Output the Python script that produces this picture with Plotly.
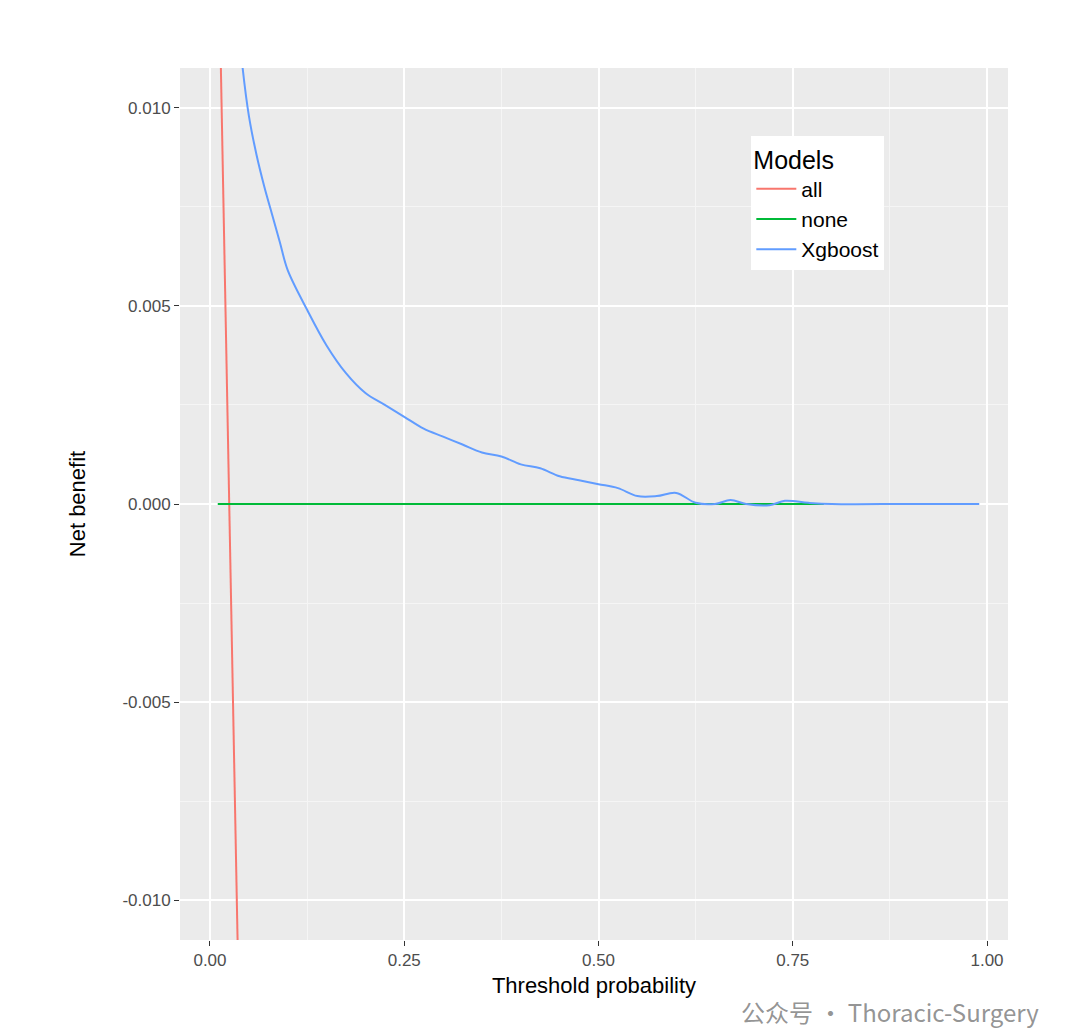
import plotly.graph_objects as go

all_x = [0.01, 0.02, 0.03, 0.04]
all_y = [0.0151, 0.0051, -0.0051, -0.0156]
none_x = [0.01, 0.79]
none_y = [0.0, 0.0]
xg_x = [0.035, 0.042, 0.05, 0.06, 0.07, 0.08, 0.09, 0.1, 0.125, 0.15, 0.175, 0.2, 0.225, 0.25, 0.275, 0.3,
        0.325, 0.35, 0.375, 0.4, 0.425, 0.45, 0.475, 0.5, 0.525, 0.55, 0.575, 0.6, 0.625, 0.65, 0.67,
        0.69, 0.72, 0.74, 0.77, 0.8, 0.9, 0.99]
xg_y = [0.0125, 0.011, 0.0098, 0.0088, 0.0080, 0.0073, 0.0066, 0.0059, 0.0049, 0.0040, 0.0033, 0.0028,
        0.0025, 0.0022, 0.0019, 0.0017, 0.0015, 0.0013, 0.0012, 0.0010, 0.0009, 0.0007, 0.0006, 0.0005,
        0.0004, 0.0002, 0.0002, 0.00028, 0.00003, 0.0, 0.0001, 0.0, -0.00003, 0.00008, 0.00003, 0.0, 0.0, 0.0]

fig = go.Figure()
fig.add_trace(go.Scatter(x=all_x, y=all_y, mode="lines", name="all", line=dict(color="#F8766D", width=2)))
fig.add_trace(go.Scatter(x=none_x, y=none_y, mode="lines", name="none", line=dict(color="#00BA38", width=2)))
fig.add_trace(go.Scatter(x=xg_x, y=xg_y, mode="lines", name="Xgboost", line=dict(color="#619CFF", width=2, shape="spline")))

ax = dict(showline=False, zeroline=False, gridcolor="white", gridwidth=1.5, ticks="outside",
          ticklen=5, tickcolor="#333333", tickfont=dict(size=17, color="#4D4D4D"),
          title_font=dict(size=22, color="black"), automargin=False)
fig.update_layout(
    width=1070, height=1034, paper_bgcolor="white", plot_bgcolor="#EBEBEB",
    margin=dict(l=172, r=70, t=60, b=102),
    font=dict(family="Liberation Sans, Arial"),
    xaxis=dict(ax, range=[-0.0386, 1.027], tickvals=[0, 0.25, 0.5, 0.75, 1.0],
               ticktext=["0.00", "0.25", "0.50", "0.75", "1.00"], title_text="Threshold probability",
               title_standoff=8, minor=dict(tickvals=[0.125, 0.375, 0.625, 0.875], gridcolor="#F5F5F5", gridwidth=0.8, ticks="")),
    yaxis=dict(ax, range=[-0.011, 0.011], tickvals=[-0.01, -0.005, 0, 0.005, 0.01],
               ticktext=["-0.010", "-0.005", "0.000", "0.005", "0.010"], title_text="Net benefit",
               title_standoff=30,
               minor=dict(tickvals=[-0.0075, -0.0025, 0.0025, 0.0075], gridcolor="#F5F5F5", gridwidth=0.8, ticks="")),
    legend=dict(x=0.69, y=0.922, xanchor="left", yanchor="top", bgcolor="white",
                title=dict(text="Models  ", font=dict(size=25, color="black")),
                font=dict(size=21, color="black"), borderwidth=0,
                itemwidth=40),
    showlegend=True,
)
fig.add_annotation(text="公众号 · Thoracic-Surgery", xref="paper", yref="paper", x=1.04, y=-0.06,
                   xanchor="right", yanchor="top", showarrow=False,
                   font=dict(size=24, color="rgba(120,120,120,0.8)", family="Noto Sans CJK SC"))
fig.write_html("out.html")
